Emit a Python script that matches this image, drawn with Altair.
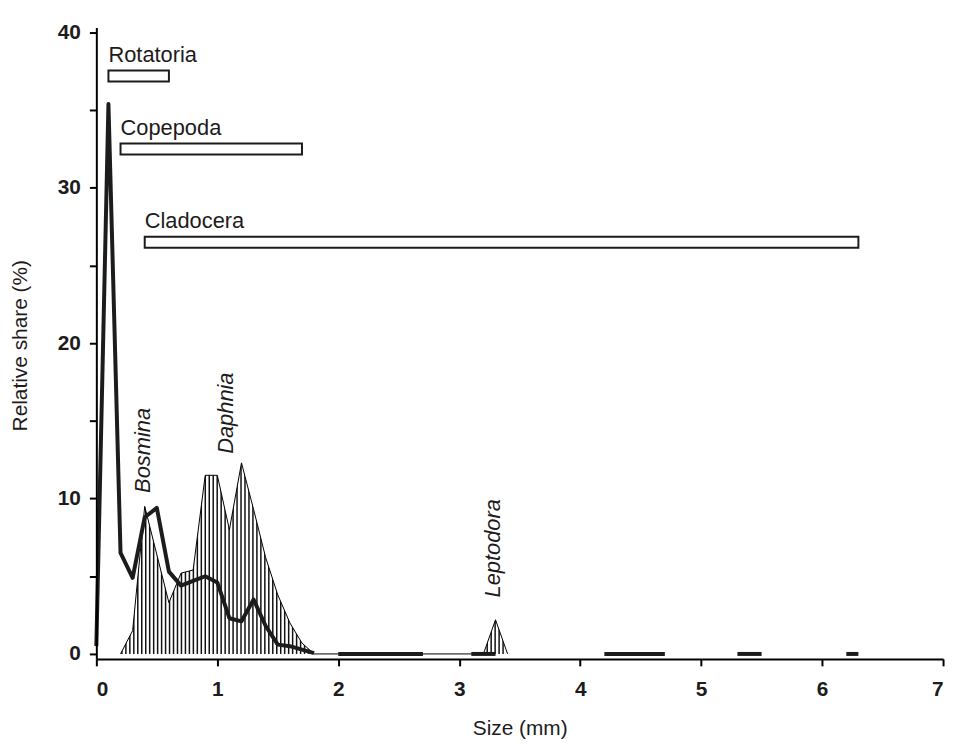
import altair as alt
import pandas as pd

# ---- data ----
# thick line (relative share, all zooplankton)
line_x = [0.0, 0.1, 0.2, 0.3, 0.4, 0.5, 0.6, 0.7, 0.8, 0.9, 1.0, 1.1, 1.2, 1.3, 1.4, 1.5, 1.6, 1.8,
          2.0, 2.7,
          3.1, 3.3,
          4.2, 4.7,
          5.3, 5.5,
          6.2, 6.3]
line_y = [0.5, 35.4, 6.5, 4.9, 8.8, 9.4, 5.3, 4.4, 4.7, 5.0, 4.6, 2.3, 2.1, 3.5, 1.8, 0.6, 0.5, 0.05,
          0.0, 0.0,
          0.0, 0.0,
          0.0, 0.0,
          0.0, 0.0,
          0.0, 0.0]
line_seg = [0] * 18 + [1, 1, 2, 2, 3, 3, 4, 4, 5, 5]

# hatched area (Cladocera)
area_x = [0.2, 0.3, 0.4, 0.6, 0.7, 0.8, 0.9, 1.0, 1.1, 1.2, 1.3, 1.4, 1.5, 1.6, 1.7, 1.8, 3.2, 3.3, 3.4]
area_y = [0.0, 1.5, 9.5, 3.3, 5.2, 5.4, 11.5, 11.5, 8.0, 12.3, 9.3, 6.2, 3.8, 2.0, 0.7, 0.0, 0.0, 2.2, 0.0]

# size-range bars
groups = ["Rotatoria", "Copepoda", "Cladocera"]
range_start = [0.1, 0.2, 0.4]
range_end = [0.6, 1.7, 6.3]
range_level = [37.2, 32.5, 26.5]

# genus labels
genus = ["Bosmina", "Daphnia", "Leptodora"]
genus_x = [0.39, 1.07, 3.28]
genus_y = [13.1, 15.5, 6.8]

x_ticks = [0, 1, 2, 3, 4, 5, 6, 7]
y_ticks = [0, 5, 10, 15, 20, 25, 30, 35, 40]

FONT = "Liberation Sans"
INK = "#1e1b1c"
PLOT_W = 853
PLOT_H = 636
LEFT = 89

line_df = pd.DataFrame({"x": line_x, "y": line_y, "seg": line_seg})
area_df = pd.DataFrame({"x": area_x, "y": area_y})
bar_df = pd.DataFrame({"group": groups, "x": range_start, "x2": range_end, "y": range_level})
genus_df = pd.DataFrame({"name": genus, "x": genus_x, "y": genus_y})

xscale = alt.Scale(domain=[0, 7], nice=False, zero=False)
yscale = alt.Scale(domain=[0, 40], nice=False)

x_axis = alt.Axis(values=x_ticks, title="Size (mm)", format="d", labelPadding=13,
                  titleBaseline="alphabetic", titleY=76, titleAlign="center", zindex=1)
y_axis = alt.Axis(values=y_ticks, title="Relative share (%)",
                  labelExpr="datum.value % 10 == 0 ? datum.label : ''",
                  labelPadding=9, titleX=-76, titleY=320, titleAngle=-90,
                  titleAlign="center", titleBaseline="middle", zindex=1)

# ---- vertical hatching: pixel-aligned stripes (4 px period), masked above the curve ----
px_per_unit = PLOT_W / 7.0
x_lo, x_hi = min(area_x), max(area_x)
first_px = int(x_lo * px_per_unit) + 1.75          # stripe centre, crisp on the pixel grid
stripe_start = first_px / px_per_unit
stripe_step = 4.0 / px_per_unit
stripe_stop = x_hi - 2.5 / px_per_unit             # keep the last stripe inside the shape
top_y = max(area_y) + 0.5

stripes = alt.Chart(alt.sequence(start=stripe_start, stop=stripe_stop, step=stripe_step,
                                 as_="x")).mark_rule(color="#111111", strokeWidth=1.5).encode(
    x=alt.X("x:Q", scale=xscale, axis=x_axis),
    y=alt.datum(0, scale=yscale, axis=y_axis),
    y2=alt.datum(top_y),
)

mask = alt.Chart(area_df).mark_area(fill="#ffffff", interpolate="linear").encode(
    x=alt.X("x:Q", scale=xscale, sort=None),
    y=alt.Y("y:Q", scale=yscale, stack=None),
    y2=alt.datum(top_y),
)

outline = alt.Chart(area_df).mark_line(color="#000000", strokeWidth=1,
                                       interpolate="linear").encode(
    x=alt.X("x:Q", scale=xscale, sort=None),
    y=alt.Y("y:Q", scale=yscale),
    order="x:Q",
)

line = alt.Chart(line_df).mark_line(color=INK, strokeWidth=4, strokeJoin="round").encode(
    x=alt.X("x:Q", scale=xscale),
    y=alt.Y("y:Q", scale=yscale),
    detail="seg:N",
    order="x:Q",
)

bars = alt.Chart(bar_df).mark_bar(size=11, fill="#ffffff", stroke=INK, strokeWidth=2).encode(
    x=alt.X("x:Q", scale=xscale),
    x2="x2:Q",
    y=alt.Y("y:Q", scale=yscale),
)

bar_text = alt.Chart(bar_df).mark_text(align="left", baseline="alphabetic", dy=-14,
                                       font=FONT, fontSize=22, color=INK).encode(
    x=alt.X("x:Q", scale=xscale),
    y=alt.Y("y:Q", scale=yscale),
    text="group:N",
)

genus_text = alt.Chart(genus_df).mark_text(angle=270, align="center", baseline="middle",
                                           font=FONT, fontSize=22, fontStyle="italic",
                                           color=INK).encode(
    x=alt.X("x:Q", scale=xscale),
    y=alt.Y("y:Q", scale=yscale),
    text="name:N",
)

chart = alt.layer(stripes, mask, outline, line, bars, bar_text, genus_text).properties(
    width=PLOT_W, height=PLOT_H,
    autosize=alt.AutoSizeParams(type="none"),
    padding={"left": LEFT, "top": 17, "right": 7, "bottom": 83},
).configure_view(stroke=None).configure_axis(
    grid=False, domainColor="#000000", domainWidth=2, tickColor="#000000",
    tickWidth=2, tickSize=7, labelFont=FONT, labelFontSize=21, labelFontWeight="bold",
    labelColor=INK, titleFont=FONT, titleFontSize=21, titleFontWeight="normal",
    titleColor=INK,
)

chart.save("out.html", embed_options={"renderer": "svg", "actions": False})
